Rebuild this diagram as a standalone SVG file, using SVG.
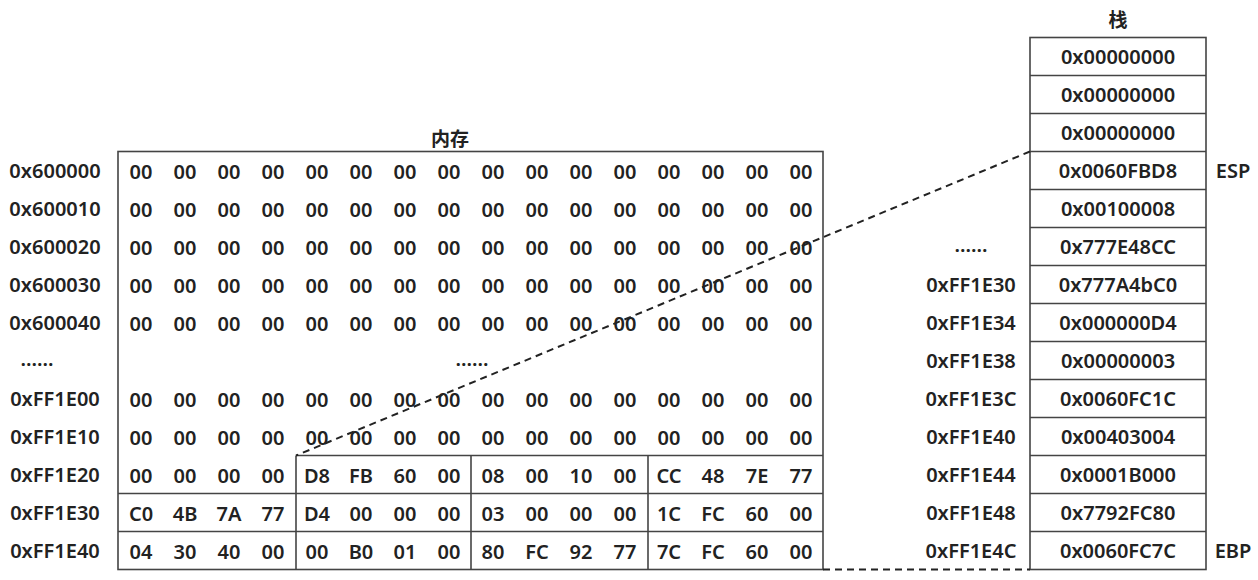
<svg xmlns="http://www.w3.org/2000/svg" width="1258" height="580" viewBox="0 0 1258 580">
<style>
text{font-family:"Noto Sans","Liberation Sans","Noto Sans CJK SC",sans-serif;font-size:20px;font-weight:600;fill:#222;dominant-baseline:central;text-anchor:middle}
.cjk{font-family:"Noto Sans CJK SC",sans-serif;font-size:19px;font-weight:700}
.box{fill:none;stroke:#444;stroke-width:1.6}
.ln{stroke:#444;stroke-width:1.6}
.dash{fill:none;stroke:#222;stroke-width:2;stroke-dasharray:7 5}
</style>
<rect width="1258" height="580" fill="#fff"/>
<g id="memory">
<text class="cjk" x="450" y="137">内存</text>
<rect class="box" x="118" y="151.5" width="705" height="418"/>
<line class="ln" x1="296" y1="455.5" x2="823" y2="455.5"/>
<line class="ln" x1="118" y1="493.5" x2="823" y2="493.5"/>
<line class="ln" x1="118" y1="531.5" x2="823" y2="531.5"/>
<line class="ln" x1="296" y1="455.5" x2="296" y2="569.5"/>
<line class="ln" x1="471" y1="455.5" x2="471" y2="569.5"/>
<line class="ln" x1="648" y1="455.5" x2="648" y2="569.5"/>
<g id="mem-labels">
<text x="55" y="170.5">0x600000</text>
<text x="55" y="208.5">0x600010</text>
<text x="55" y="246.5">0x600020</text>
<text x="55" y="284.5">0x600030</text>
<text x="55" y="322.5">0x600040</text>
<text x="37" y="358">......</text>
<text x="55" y="398.5">0xFF1E00</text>
<text x="55" y="436.5">0xFF1E10</text>
<text x="55" y="474.5">0xFF1E20</text>
<text x="55" y="512.5">0xFF1E30</text>
<text x="55" y="550.5">0xFF1E40</text>
</g>
<g id="mem-cells">
<text y="170.5"><tspan x="141">00</tspan><tspan x="185">00</tspan><tspan x="229">00</tspan><tspan x="273">00</tspan><tspan x="317">00</tspan><tspan x="361">00</tspan><tspan x="405">00</tspan><tspan x="449">00</tspan><tspan x="493">00</tspan><tspan x="537">00</tspan><tspan x="581">00</tspan><tspan x="625">00</tspan><tspan x="669">00</tspan><tspan x="713">00</tspan><tspan x="757">00</tspan><tspan x="801">00</tspan></text>
<text y="208.5"><tspan x="141">00</tspan><tspan x="185">00</tspan><tspan x="229">00</tspan><tspan x="273">00</tspan><tspan x="317">00</tspan><tspan x="361">00</tspan><tspan x="405">00</tspan><tspan x="449">00</tspan><tspan x="493">00</tspan><tspan x="537">00</tspan><tspan x="581">00</tspan><tspan x="625">00</tspan><tspan x="669">00</tspan><tspan x="713">00</tspan><tspan x="757">00</tspan><tspan x="801">00</tspan></text>
<text y="246.5"><tspan x="141">00</tspan><tspan x="185">00</tspan><tspan x="229">00</tspan><tspan x="273">00</tspan><tspan x="317">00</tspan><tspan x="361">00</tspan><tspan x="405">00</tspan><tspan x="449">00</tspan><tspan x="493">00</tspan><tspan x="537">00</tspan><tspan x="581">00</tspan><tspan x="625">00</tspan><tspan x="669">00</tspan><tspan x="713">00</tspan><tspan x="757">00</tspan><tspan x="801">00</tspan></text>
<text y="284.5"><tspan x="141">00</tspan><tspan x="185">00</tspan><tspan x="229">00</tspan><tspan x="273">00</tspan><tspan x="317">00</tspan><tspan x="361">00</tspan><tspan x="405">00</tspan><tspan x="449">00</tspan><tspan x="493">00</tspan><tspan x="537">00</tspan><tspan x="581">00</tspan><tspan x="625">00</tspan><tspan x="669">00</tspan><tspan x="713">00</tspan><tspan x="757">00</tspan><tspan x="801">00</tspan></text>
<text y="322.5"><tspan x="141">00</tspan><tspan x="185">00</tspan><tspan x="229">00</tspan><tspan x="273">00</tspan><tspan x="317">00</tspan><tspan x="361">00</tspan><tspan x="405">00</tspan><tspan x="449">00</tspan><tspan x="493">00</tspan><tspan x="537">00</tspan><tspan x="581">00</tspan><tspan x="625">00</tspan><tspan x="669">00</tspan><tspan x="713">00</tspan><tspan x="757">00</tspan><tspan x="801">00</tspan></text>
<text x="472" y="358">......</text>
<text y="398.5"><tspan x="141">00</tspan><tspan x="185">00</tspan><tspan x="229">00</tspan><tspan x="273">00</tspan><tspan x="317">00</tspan><tspan x="361">00</tspan><tspan x="405">00</tspan><tspan x="449">00</tspan><tspan x="493">00</tspan><tspan x="537">00</tspan><tspan x="581">00</tspan><tspan x="625">00</tspan><tspan x="669">00</tspan><tspan x="713">00</tspan><tspan x="757">00</tspan><tspan x="801">00</tspan></text>
<text y="436.5"><tspan x="141">00</tspan><tspan x="185">00</tspan><tspan x="229">00</tspan><tspan x="273">00</tspan><tspan x="317">00</tspan><tspan x="361">00</tspan><tspan x="405">00</tspan><tspan x="449">00</tspan><tspan x="493">00</tspan><tspan x="537">00</tspan><tspan x="581">00</tspan><tspan x="625">00</tspan><tspan x="669">00</tspan><tspan x="713">00</tspan><tspan x="757">00</tspan><tspan x="801">00</tspan></text>
<text y="474.5"><tspan x="141">00</tspan><tspan x="185">00</tspan><tspan x="229">00</tspan><tspan x="273">00</tspan><tspan x="317">D8</tspan><tspan x="361">FB</tspan><tspan x="405">60</tspan><tspan x="449">00</tspan><tspan x="493">08</tspan><tspan x="537">00</tspan><tspan x="581">10</tspan><tspan x="625">00</tspan><tspan x="669">CC</tspan><tspan x="713">48</tspan><tspan x="757">7E</tspan><tspan x="801">77</tspan></text>
<text y="512.5"><tspan x="141">C0</tspan><tspan x="185">4B</tspan><tspan x="229">7A</tspan><tspan x="273">77</tspan><tspan x="317">D4</tspan><tspan x="361">00</tspan><tspan x="405">00</tspan><tspan x="449">00</tspan><tspan x="493">03</tspan><tspan x="537">00</tspan><tspan x="581">00</tspan><tspan x="625">00</tspan><tspan x="669">1C</tspan><tspan x="713">FC</tspan><tspan x="757">60</tspan><tspan x="801">00</tspan></text>
<text y="550.5"><tspan x="141">04</tspan><tspan x="185">30</tspan><tspan x="229">40</tspan><tspan x="273">00</tspan><tspan x="317">00</tspan><tspan x="361">B0</tspan><tspan x="405">01</tspan><tspan x="449">00</tspan><tspan x="493">80</tspan><tspan x="537">FC</tspan><tspan x="581">92</tspan><tspan x="625">77</tspan><tspan x="669">7C</tspan><tspan x="713">FC</tspan><tspan x="757">60</tspan><tspan x="801">00</tspan></text>
</g>
</g>
<g id="stack">
<text class="cjk" x="1118" y="18">栈</text>
<rect class="box" x="1030" y="37.5" width="176" height="532"/>
<line class="ln" x1="1030" y1="75.5" x2="1206" y2="75.5"/>
<line class="ln" x1="1030" y1="113.5" x2="1206" y2="113.5"/>
<line class="ln" x1="1030" y1="151.5" x2="1206" y2="151.5"/>
<line class="ln" x1="1030" y1="189.5" x2="1206" y2="189.5"/>
<line class="ln" x1="1030" y1="227.5" x2="1206" y2="227.5"/>
<line class="ln" x1="1030" y1="265.5" x2="1206" y2="265.5"/>
<line class="ln" x1="1030" y1="303.5" x2="1206" y2="303.5"/>
<line class="ln" x1="1030" y1="341.5" x2="1206" y2="341.5"/>
<line class="ln" x1="1030" y1="379.5" x2="1206" y2="379.5"/>
<line class="ln" x1="1030" y1="417.5" x2="1206" y2="417.5"/>
<line class="ln" x1="1030" y1="455.5" x2="1206" y2="455.5"/>
<line class="ln" x1="1030" y1="493.5" x2="1206" y2="493.5"/>
<line class="ln" x1="1030" y1="531.5" x2="1206" y2="531.5"/>
<text x="1118" y="56.5">0x00000000</text>
<text x="1118" y="94.5">0x00000000</text>
<text x="1118" y="132.5">0x00000000</text>
<text x="1118" y="170.5">0x0060FBD8</text>
<text x="1118" y="208.5">0x00100008</text>
<text x="1118" y="246.5">0x777E48CC</text>
<text x="1118" y="284.5">0x777A4bC0</text>
<text x="1118" y="322.5">0x000000D4</text>
<text x="1118" y="360.5">0x00000003</text>
<text x="1118" y="398.5">0x0060FC1C</text>
<text x="1118" y="436.5">0x00403004</text>
<text x="1118" y="474.5">0x0001B000</text>
<text x="1118" y="512.5">0x7792FC80</text>
<text x="1118" y="550.5">0x0060FC7C</text>
<text x="1233" y="170.5">ESP</text>
<text x="1233" y="550.5">EBP</text>
<text x="971" y="244">......</text>
<text x="971" y="284.5">0xFF1E30</text>
<text x="971" y="322.5">0xFF1E34</text>
<text x="971" y="360.5">0xFF1E38</text>
<text x="971" y="398.5">0xFF1E3C</text>
<text x="971" y="436.5">0xFF1E40</text>
<text x="971" y="474.5">0xFF1E44</text>
<text x="971" y="512.5">0xFF1E48</text>
<text x="971" y="550.5">0xFF1E4C</text>
</g>
<g id="connectors">
<line class="dash" x1="1030" y1="151.5" x2="296" y2="455.5"/>
<line class="dash" x1="823" y1="569.5" x2="1030" y2="569.5"/>
</g>
</svg>
